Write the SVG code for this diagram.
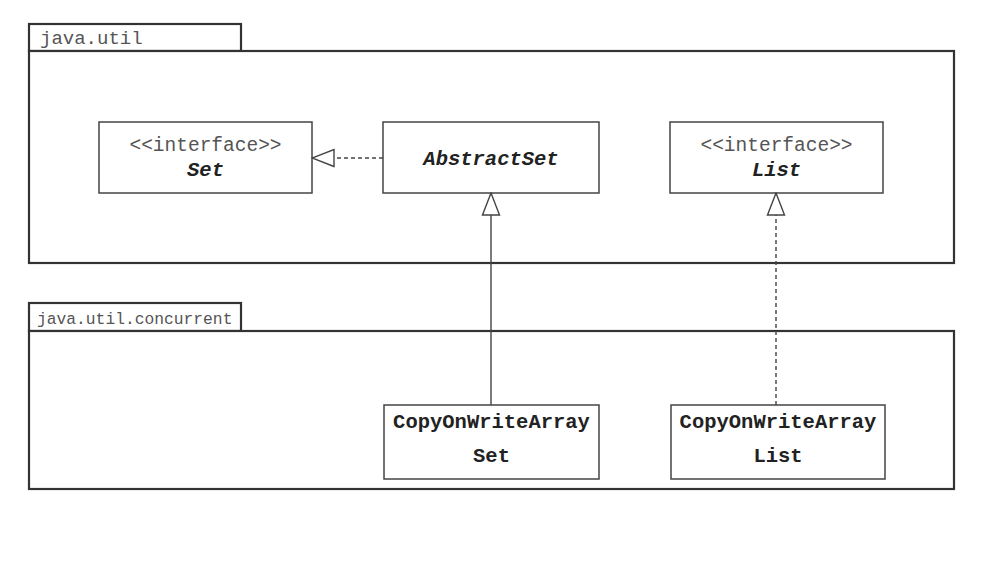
<svg xmlns="http://www.w3.org/2000/svg" width="994" height="562" viewBox="0 0 994 562">
<style>
.pkg{fill:#fff;stroke:#333;stroke-width:2.2}
.box{fill:#fff;stroke:#444;stroke-width:1.5}
.t{font-family:"Liberation Mono","DejaVu Sans Mono",monospace;text-anchor:middle}
.st{font-size:19.5px;fill:#555}
.nm{font-size:20.5px;font-weight:bold;fill:#222}
.it{font-style:italic}
.pl{font-family:"Liberation Mono","DejaVu Sans Mono",monospace;fill:#555}
.ln{stroke:#444;stroke-width:1.4;fill:none}
.dash{stroke-dasharray:4,3}
</style>
<defs>
<marker id="tri" viewBox="0 0 24 20" refX="23" refY="10" markerWidth="24" markerHeight="20" markerUnits="userSpaceOnUse" orient="auto">
<path d="M1,1.5 L23,10 L1,18.5 Z" fill="#fff" stroke="#444" stroke-width="1.4"/>
</marker>
</defs>
<g id="pkg-java-util">
<rect class="pkg" x="29" y="24" width="212" height="27"/>
<rect class="pkg" x="29" y="51" width="925" height="212"/>
<text class="pl" x="40" y="44" font-size="19">java.util</text>
</g>
<g id="pkg-java-util-concurrent">
<rect class="pkg" x="29" y="303" width="212" height="28"/>
<rect class="pkg" x="29" y="331" width="925" height="158"/>
<text class="pl" x="37" y="324" font-size="16.3">java.util.concurrent</text>
</g>
<g id="Set">
<rect class="box" x="99" y="122" width="213" height="71"/>
<text class="t st" x="205.5" y="151">&lt;&lt;interface&gt;&gt;</text>
<text class="t nm it" x="205.5" y="176">Set</text>
</g>
<g id="AbstractSet">
<rect class="box" x="383" y="122" width="216" height="71"/>
<text class="t nm it" x="491" y="165">AbstractSet</text>
</g>
<g id="List">
<rect class="box" x="670" y="122" width="213" height="71"/>
<text class="t st" x="776.5" y="151">&lt;&lt;interface&gt;&gt;</text>
<text class="t nm it" x="776.5" y="176">List</text>
</g>
<g id="CopyOnWriteArraySet">
<rect class="box" x="384" y="405" width="215" height="74"/>
<text class="t nm" x="491.5" y="428">CopyOnWriteArray</text>
<text class="t nm" x="491.5" y="462">Set</text>
</g>
<g id="CopyOnWriteArrayList">
<rect class="box" x="671" y="405" width="214" height="74"/>
<text class="t nm" x="778" y="428">CopyOnWriteArray</text>
<text class="t nm" x="778" y="462">List</text>
</g>
<g id="connectors">
<line class="ln dash" x1="383" y1="158" x2="312" y2="158" marker-end="url(#tri)"/>
<line class="ln" x1="491" y1="405" x2="491" y2="193" marker-end="url(#tri)"/>
<line class="ln dash" x1="776" y1="405" x2="776" y2="193" marker-end="url(#tri)"/>
</g>
</svg>
